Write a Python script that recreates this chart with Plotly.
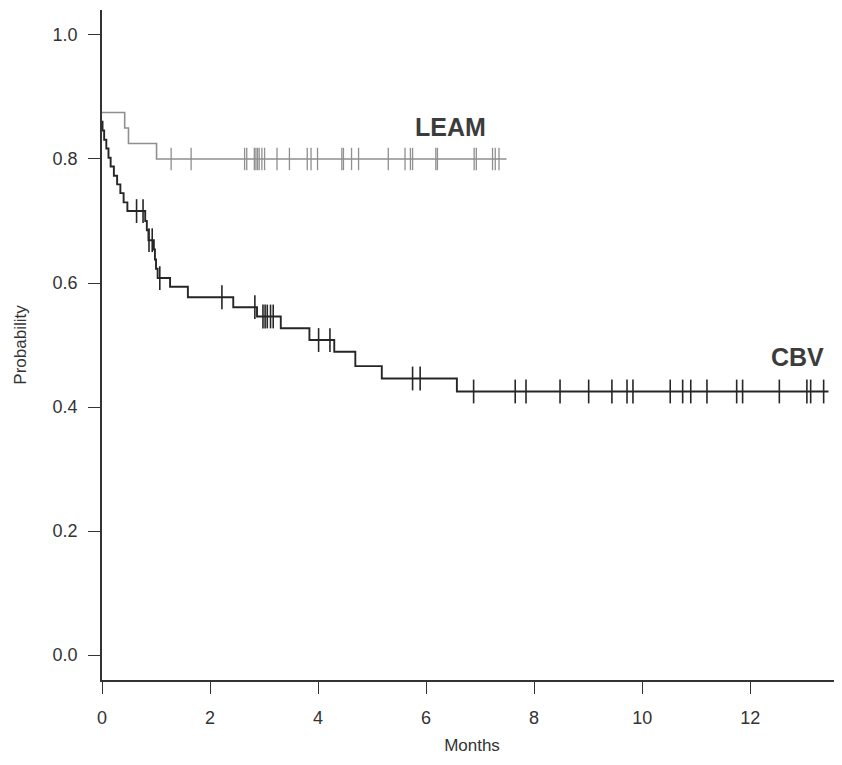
import numpy as np
import plotly.graph_objects as go

# ---- data ----
leam_times = [0.0, 0.42, 0.49, 1.01]
leam_surv = [0.875, 0.85, 0.825, 0.80]
leam_end = 7.49
leam_censor = [1.28, 1.65, 2.64, 2.68, 2.82, 2.85, 2.88, 2.91, 2.96, 3.01, 3.24,
               3.47, 3.80, 3.87, 3.99, 4.44, 4.47, 4.62, 4.75, 5.30, 5.61, 5.71,
               5.75, 6.18, 6.21, 6.89, 6.93, 7.23, 7.28, 7.35]

cbv_times = [0.0, 0.01, 0.04, 0.08, 0.12, 0.16, 0.22, 0.28, 0.34, 0.40, 0.47,
             0.80, 0.83, 0.86, 0.96, 0.98, 1.00, 1.03, 1.26, 1.59, 2.43, 2.87,
             3.31, 3.84, 4.30, 4.69, 5.18, 6.57]
cbv_surv = [0.860, 0.846, 0.831, 0.817, 0.802, 0.788, 0.773, 0.759, 0.745, 0.730,
            0.716, 0.700, 0.685, 0.669, 0.654, 0.638, 0.623, 0.608, 0.594, 0.577,
            0.561, 0.546, 0.527, 0.508, 0.489, 0.466, 0.446, 0.425]
cbv_end = 13.45
cbv_censor = [0.64, 0.76, 0.87, 0.93, 1.07, 2.22, 2.83, 2.98, 3.02, 3.06, 3.12,
              3.17, 4.01, 4.22, 5.75, 5.89, 6.88, 7.65, 7.85, 8.48, 9.01, 9.44,
              9.72, 9.83, 10.52, 10.75, 10.90, 11.20, 11.75, 11.86, 12.54, 13.05,
              13.12, 13.36]

x_ticks = [0, 2, 4, 6, 8, 10, 12]
y_ticks = [0.0, 0.2, 0.4, 0.6, 0.8, 1.0]


def step_at(times, surv, t):
    idx = np.searchsorted(np.array(times), t, side="right") - 1
    return surv[max(idx, 0)]


LEAM_COLOR = "#8f8f8f"
CBV_COLOR = "#262626"
FONT = "Liberation Sans, Arial, sans-serif"

fig = go.Figure()

# LEAM curve
fig.add_trace(go.Scatter(
    x=leam_times + [leam_end], y=leam_surv + [leam_surv[-1]],
    mode="lines", line=dict(color=LEAM_COLOR, width=1.6, shape="hv"),
    showlegend=False, hoverinfo="skip"))
fig.add_trace(go.Scatter(
    x=leam_censor, y=[step_at(leam_times, leam_surv, t) for t in leam_censor],
    mode="markers",
    marker=dict(symbol="line-ns", size=16, line=dict(color=LEAM_COLOR, width=1.3)),
    showlegend=False, hoverinfo="skip"))

# CBV curve
fig.add_trace(go.Scatter(
    x=cbv_times + [cbv_end], y=cbv_surv + [cbv_surv[-1]],
    mode="lines", line=dict(color=CBV_COLOR, width=1.9, shape="hv"),
    showlegend=False, hoverinfo="skip"))
fig.add_trace(go.Scatter(
    x=cbv_censor, y=[step_at(cbv_times, cbv_surv, t) for t in cbv_censor],
    mode="markers",
    marker=dict(symbol="line-ns", size=17, line=dict(color=CBV_COLOR, width=1.6)),
    showlegend=False, hoverinfo="skip"))

fig.add_annotation(x=6.46, y=0.852, text="<b>LEAM</b>", showarrow=False,
                   font=dict(family=FONT, size=25, color="#3c3c3c"))
fig.add_annotation(x=12.87, y=0.481, text="<b>CBV</b>", showarrow=False,
                   font=dict(family=FONT, size=25, color="#3c3c3c"))

# the page body has an 8px margin, so the figure is shifted by 8px
fig.update_layout(
    width=834, height=757,
    margin=dict(l=94, r=0, t=2, b=85),
    paper_bgcolor="white", plot_bgcolor="white",
    font=dict(family=FONT, size=16, color="#333333"),
)
fig.update_xaxes(
    range=[0, 13.7], tickvals=x_ticks, ticktext=[str(v) for v in x_ticks],
    showgrid=False, zeroline=False, showline=True, linecolor="#333333", linewidth=1.6,
    ticks="outside", ticklen=12, tickwidth=1.3, tickcolor="#333333",
    tickfont=dict(size=18, color="#333333"), ticklabelstandoff=9,
    title=dict(text="Months", font=dict(size=17, color="#333333"), standoff=12),
)
fig.update_yaxes(
    range=[-0.0403, 1.0403], tickvals=y_ticks, ticktext=[f"{v:.1f}" for v in y_ticks],
    showgrid=False, zeroline=False, showline=True, linecolor="#333333", linewidth=1.6,
    ticks="outside", ticklen=12, tickwidth=1.3, tickcolor="#333333",
    tickfont=dict(size=18, color="#333333"), ticklabelstandoff=7,
    title=dict(text="Probability", font=dict(size=17, color="#333333"), standoff=22),
)

fig.write_html("out.html")
